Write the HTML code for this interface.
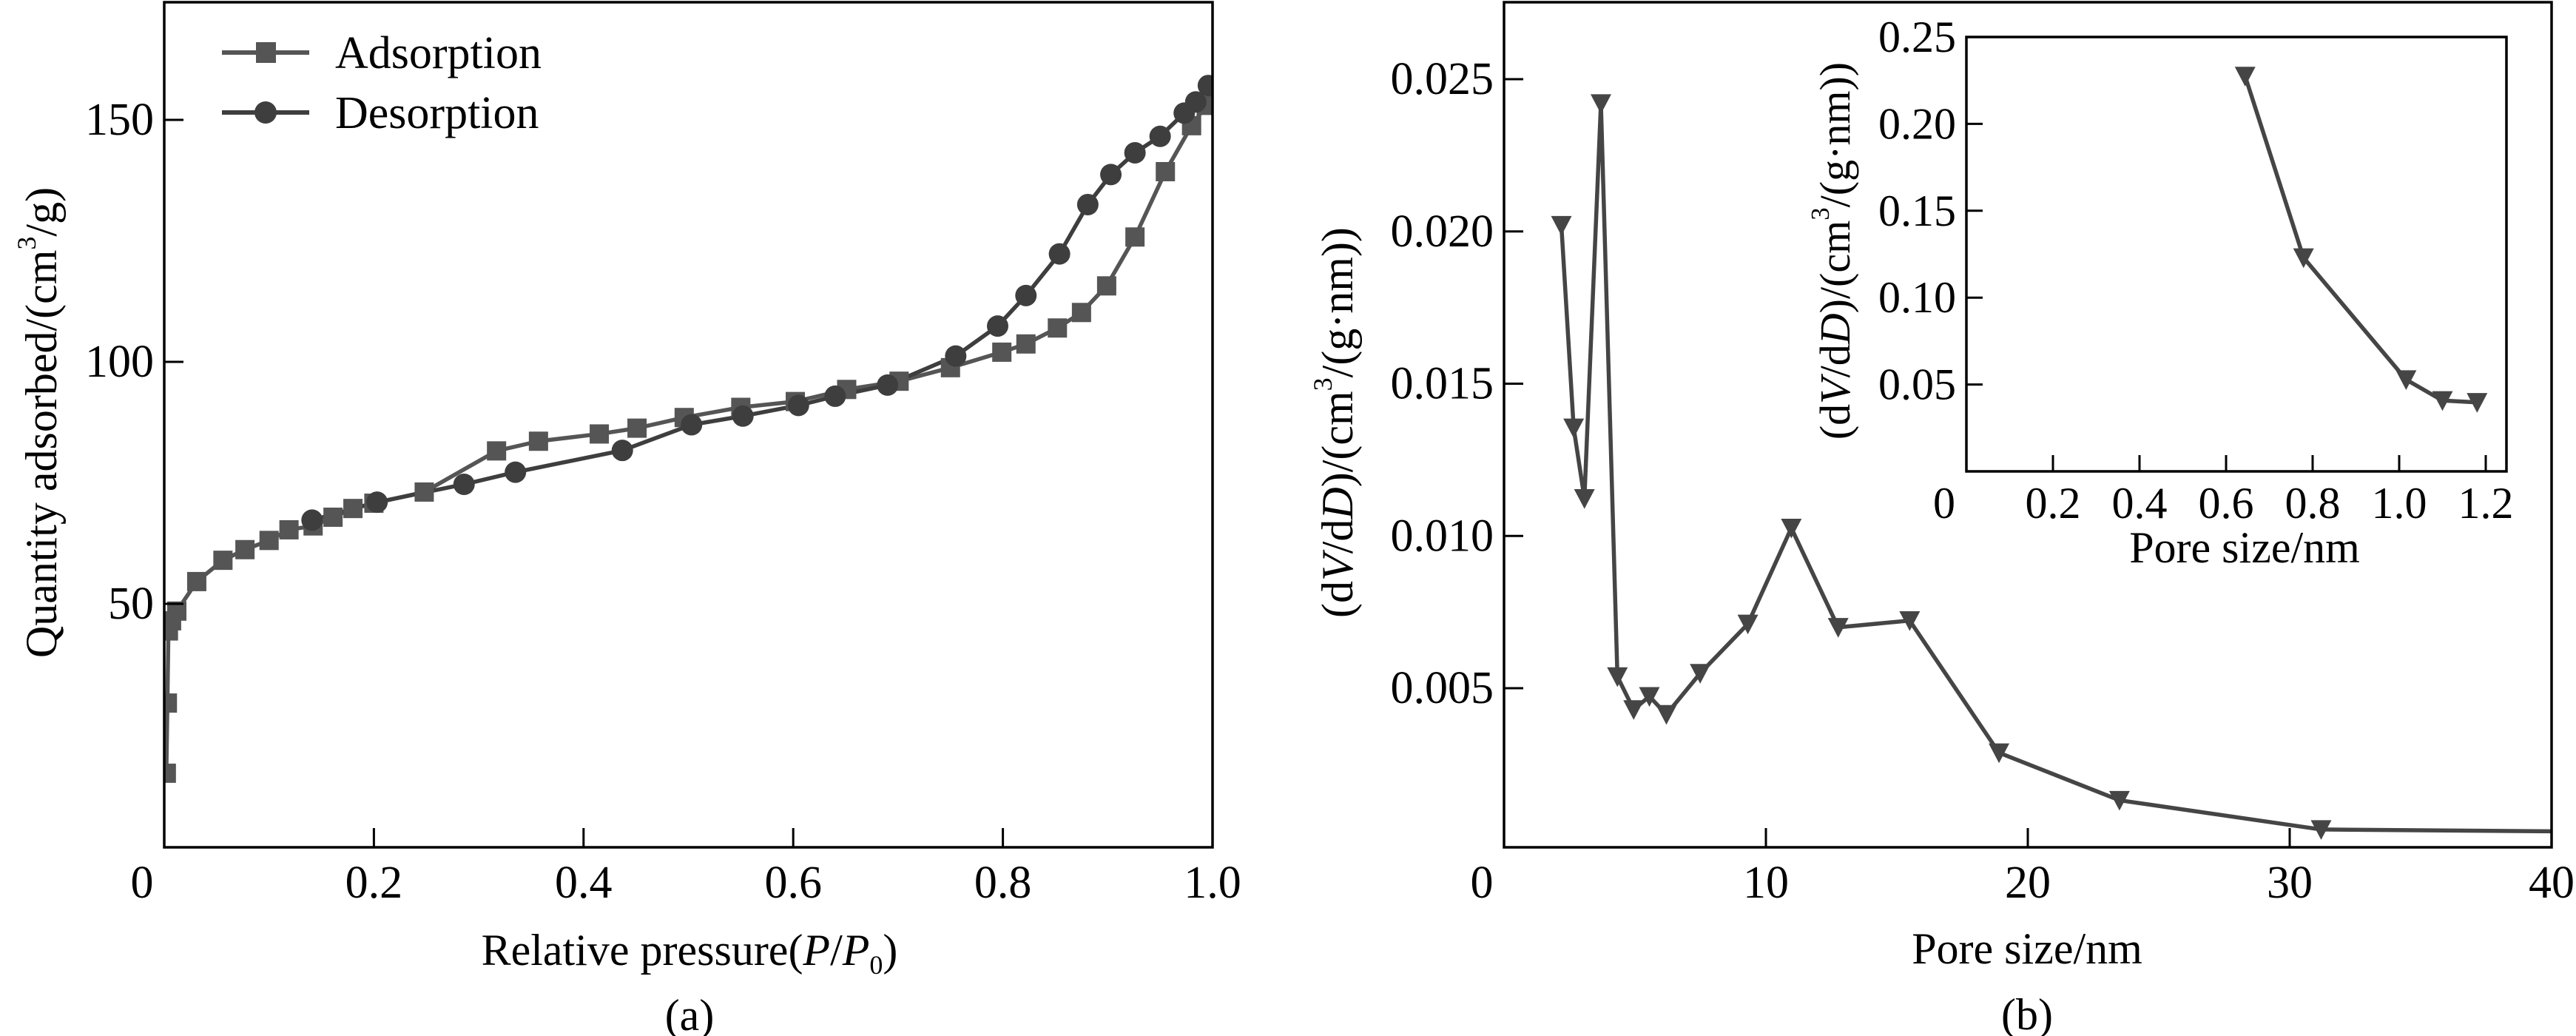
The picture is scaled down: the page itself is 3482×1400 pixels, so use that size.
<!DOCTYPE html>
<html><head><meta charset="utf-8"><style>
html,body{margin:0;padding:0;background:#fff;}
svg{display:block;font-family:"Liberation Serif","DejaVu Serif",serif;}
</style></head><body>
<svg id="chart" width="3482" height="1400" viewBox="0 0 3482 1400" xmlns="http://www.w3.org/2000/svg"></svg>
<script>
// Panel (a) data
const adsX=[0.002,0.003,0.004,0.007,0.012,0.031,0.056,0.077,0.1,0.119,0.142,0.161,0.18,0.2,0.248,0.317,0.357,0.415,0.451,0.496,0.55,0.602,0.651,0.701,0.75,0.799,0.822,0.852,0.875,0.899,0.926,0.955,0.98,0.994];
const adsY=[15,29.5,44.4,46.5,48.5,54.6,59,61.2,63.1,65.3,66.1,67.9,69.7,70.8,73.1,81.6,83.6,85.1,86.3,88.5,90.6,91.8,94.3,96.0,98.8,102.0,103.7,107,110.2,115.7,125.8,139.3,148.8,153];
const desX=[0.996,0.984,0.973,0.95,0.926,0.903,0.881,0.854,0.822,0.795,0.755,0.69,0.64,0.605,0.552,0.503,0.437,0.335,0.286,0.203,0.141];
const desY=[157.1,153.7,151.4,146.6,143.2,138.7,132.5,122.3,113.7,107.4,101.2,95.2,92.9,91,88.8,87.0,81.7,77.2,74.7,71,67.3];
const aXTicks=[0,0.2,0.4,0.6,0.8,1.0];
const aXTickLabels=["0","0.2","0.4","0.6","0.8","1.0"];
const aYTicks=[50,100,150];
const aYTickLabels=["50","100","150"];
// Panel (b) data
const bX=[2.19,2.66,3.07,3.7,4.33,4.95,5.55,6.2,7.49,9.31,10.97,12.76,15.49,18.9,23.5,31.2,40];
const bY=[0.0202,0.01355,0.01123,0.0242,0.00538,0.0043,0.00473,0.00414,0.00549,0.00711,0.01026,0.0070,0.00722,0.00288,0.00132,0.00036,0.0003];
const bXTicks=[0,10,20,30,40];
const bXTickLabels=["0","10","20","30","40"];
const bYTicks=[0.005,0.010,0.015,0.020,0.025];
const bYTickLabels=["0.005","0.010","0.015","0.020","0.025"];
// Inset data
const iX=[0.644,0.779,1.016,1.1,1.18];
const iY=[0.2275,0.123,0.0528,0.0408,0.0397];
const iXTicks=[0,0.2,0.4,0.6,0.8,1.0,1.2];
const iXTickLabels=["0","0.2","0.4","0.6","0.8","1.0","1.2"];
const iYTicks=[0.05,0.10,0.15,0.20,0.25];
const iYTickLabels=["0.05","0.10","0.15","0.20","0.25"];

const NS="http://www.w3.org/2000/svg";
const svg=document.getElementById('chart');
function mk(tag,attrs,parent){const e=document.createElementNS(NS,tag);for(const k in attrs)e.setAttribute(k,attrs[k]);(parent||svg).appendChild(e);return e;}
function lin(d0,d1,r0,r1){return v=>r0+(v-d0)/(d1-d0)*(r1-r0);}

const defs=mk('defs',{});
const cpA=mk('clipPath',{id:'clipA'},defs);mk('rect',{x:222,y:3,width:1417,height:1142},cpA);
const cpB=mk('clipPath',{id:'clipB'},defs);mk('rect',{x:2033,y:3,width:1416,height:1142},cpB);

function frame(x0,y0,x1,y1,name){
  const r=mk('rect',{x:x0,y:y0,width:x1-x0,height:y1-y0,fill:'none',stroke:'#000','stroke-width':3.5});
  
  
}
function text(x,y,str,size,anchor,name,rot){
  const t=mk('text',{x:x,y:y,'font-size':size,'text-anchor':anchor||'middle','dominant-baseline':'central',fill:'#000'});
  if(rot)t.setAttribute('transform','rotate(-90 '+x+' '+y+')');
  
  
  t.textContent=str;return t;
}
function richText(x,y,parts,size,name,rot){
  const t=mk('text',{x:x,y:y,'font-size':size,'text-anchor':'middle','dominant-baseline':'central',fill:'#000'});
  if(rot)t.setAttribute('transform','rotate(-90 '+x+' '+y+')');
  
  
  parts.forEach(p=>{const s=mk('tspan',{},t);if(p.i)s.setAttribute('font-style','italic');if(p.sup){s.setAttribute('baseline-shift','super');s.setAttribute('font-size',size*0.6);}if(p.sub){s.setAttribute('baseline-shift','sub');s.setAttribute('font-size',size*0.6);}s.textContent=p.t;});
  return t;
}
function axes(sx,sy,x0,y0,x1,y1,xt,xl,yt,yl,tl,fs,xly,prefix,zeroX){
  for(let i=0;i<xt.length;i++){
    const x=sx(xt[i]);
    if(i!==0||!zeroX){const l=mk('line',{x1:x,x2:x,y1:y1,y2:y1-tl,stroke:'#000','stroke-width':3});
      }
    text(i===0&&zeroX?x-30:x,xly,xl[i],fs,'middle',prefix+'x-tick-label');
  }
  for(let i=0;i<yt.length;i++){
    const y=sy(yt[i]);
    const l=mk('line',{x1:x0,x2:x0+tl,y1:y,y2:y,stroke:'#000','stroke-width':3});
    
    text(x0-14,y,yl[i],fs,'end',prefix+'y-tick-label');
  }
}
function tri(g,x,y,s,color,name){
  const p=mk('polygon',{points:(x-s*0.5)+','+(y-s*0.45)+' '+(x+s*0.5)+','+(y-s*0.45)+' '+x+','+(y+s*0.5),fill:color},g);
  
}

// ---------- Panel A ----------
const ax=lin(0,1,222,1639), ay=lin(100,150,489,162);
const gA=mk('g',{'clip-path':'url(#clipA)'});

const cA='#555555', cD='#3e3e3e';
let pa=mk('polyline',{points:adsX.map((v,i)=>ax(v)+','+ay(adsY[i])).join(' '),fill:'none',stroke:cA,'stroke-width':5.5,'stroke-linejoin':'round'},gA);

let pd=mk('polyline',{points:desX.map((v,i)=>ax(v)+','+ay(desY[i])).join(' '),fill:'none',stroke:cD,'stroke-width':5.5,'stroke-linejoin':'round'},gA);

adsX.forEach((v,i)=>{const r=mk('rect',{x:ax(v)-13,y:ay(adsY[i])-13,width:26,height:26,fill:cA},gA);
  });
desX.forEach((v,i)=>{const c=mk('circle',{cx:ax(v),cy:ay(desY[i]),r:14.5,fill:cD},gA);
  });
frame(222,3,1639,1145,'panel-a-frame');
axes(ax,ay,222,3,1639,1145,aXTicks,aXTickLabels,aYTicks,aYTickLabels,26,62,1193,'panel-a-',true);
const lg=mk('g',{});
let l1=mk('line',{x1:300,x2:418,y1:71,y2:71,stroke:cA,'stroke-width':6},lg);
let m1=mk('rect',{x:346,y:57,width:27,height:28,fill:cA},lg);
let l2=mk('line',{x1:300,x2:418,y1:152,y2:152,stroke:cD,'stroke-width':6},lg);
let m2=mk('circle',{cx:359,cy:152,r:15,fill:cD},lg);
text(453,72,'Adsorption',62,'start','legend-adsorption-label');
text(453,153,'Desorption',62,'start','legend-desorption-label');
richText(56,571,[{t:'Quantity adsorbed/(cm'},{t:'3',sup:1},{t:'/g)'}],60,'panel-a-y-axis-title',true);
richText(932,1284,[{t:'Relative pressure('},{t:'P',i:1},{t:'/'},{t:'P',i:1},{t:'0',sub:1},{t:')'}],60,'panel-a-x-axis-title');
text(932,1372,'(a)',60,'middle','panel-a-caption');

// ---------- Panel B ----------
const bx=lin(0,40,2033,3449), by=lin(0.005,0.025,930,107);
const gB=mk('g',{'clip-path':'url(#clipB)'});

const cB='#454545';
let pb=mk('polyline',{points:bX.map((v,i)=>bx(v)+','+by(bY[i])).join(' '),fill:'none',stroke:cB,'stroke-width':5.5,'stroke-linejoin':'round'},gB);

bX.forEach((v,i)=>{if(v<bXTicks[bXTicks.length-1])tri(gB,bx(v),by(bY[i]),28,cB,'pore-distribution-point');});
frame(2033,3,3449,1145,'panel-b-frame');
axes(bx,by,2033,3,3449,1145,bXTicks,bXTickLabels,bYTicks,bYTickLabels,26,62,1193,'panel-b-',true);
richText(1808,571,[{t:'(d'},{t:'V',i:1},{t:'/d'},{t:'D',i:1},{t:')/(cm'},{t:'3',sup:1},{t:'/(g·nm))'}],60,'panel-b-y-axis-title',true);
text(2740,1282,'Pore size/nm',60,'middle','panel-b-x-axis-title');
text(2740,1371,'(b)',60,'middle','panel-b-caption');

// ---------- Inset ----------
const ix=lin(0,1,2658,3243), iy=lin(0,0.25,637,50);
const gI=mk('g',{});
let pi=mk('polyline',{points:iX.map((v,i)=>ix(v)+','+iy(iY[i])).join(' '),fill:'none',stroke:cB,'stroke-width':5.5,'stroke-linejoin':'round'},gI);

iX.forEach((v,i)=>tri(gI,ix(v),iy(iY[i]),28,cB,'inset-point'));
frame(2658,50,3388,637,'inset-frame');
axes(ix,iy,2658,50,3388,637,iXTicks,iXTickLabels,iYTicks,iYTickLabels,22,60,680,'inset-',true);
richText(2480,339,[{t:'(d'},{t:'V',i:1},{t:'/d'},{t:'D',i:1},{t:')/(cm'},{t:'3',sup:1},{t:'/(g·nm))'}],58,'inset-y-axis-title',true);
text(3034,740,'Pore size/nm',60,'middle','inset-x-axis-title');
</script>
</body></html>
